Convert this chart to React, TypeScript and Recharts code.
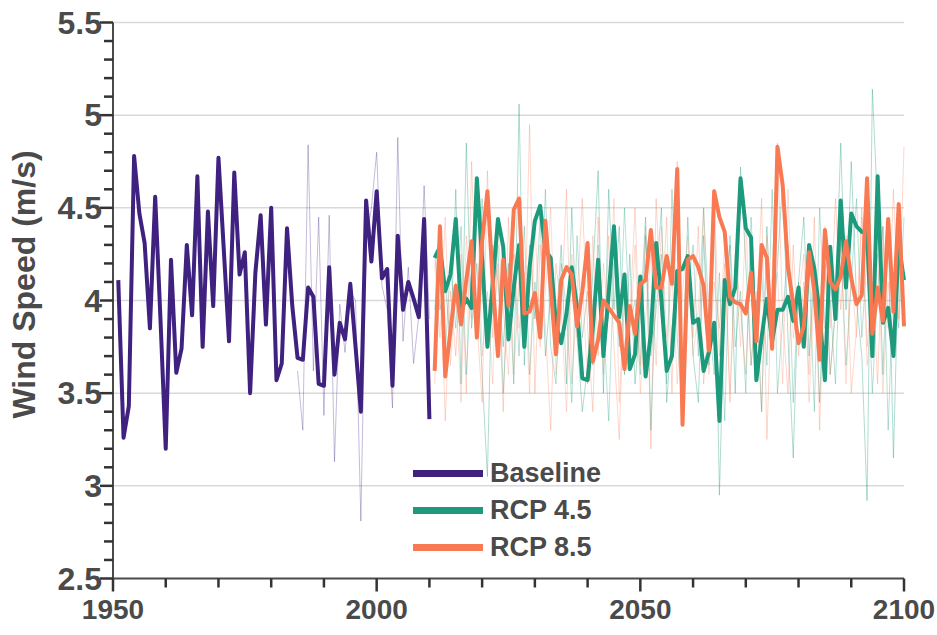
import React from "react";
import {
  LineChart,
  Line,
  XAxis,
  YAxis,
  CartesianGrid,
} from "recharts";

// yearly mean wind speed (m/s)
const BASELINE = [
  4.11, 3.26, 3.43, 4.78, 4.47, 4.31, 3.85, 4.56, 3.9, 3.2,
  4.22, 3.61, 3.74, 4.3, 3.92, 4.67, 3.75, 4.48, 3.97, 4.77,
  4.28, 3.78, 4.69, 4.14, 4.26, 3.5, 4.15, 4.46, 3.87, 4.5,
  3.57, 3.66, 4.39, 3.97, 3.69, 3.68, 4.07, 4.02, 3.55, 3.54,
  4.18, 3.6, 3.88, 3.79, 4.09, 3.75, 3.4, 4.54, 4.21, 4.59,
  4.12, 4.17, 3.54, 4.35, 3.95, 4.1, 4.01, 3.91, 4.44, 3.36,
]; // 1951-2010

const BASELINE_RUN = [
  3.62, 3.3, 4.84, 3.62, 4.45, 3.38, 4.46, 3.13, 3.98, 3.72,
  4.05, 4.0, 2.81, 4.32, 4.5, 4.8, 4.08, 3.95, 3.42, 4.88,
  3.78, 4.18, 3.66, 3.92, 4.62, 3.9,
]; // 1985-2010

const RCP45 = [
  4.23, 4.29, 4.05, 4.14, 4.44, 3.95, 4.01, 3.96, 4.66, 4.22,
  3.75, 4.09, 4.44, 4.29, 3.79, 4.07, 4.3, 3.75, 4.18, 4.43,
  4.51, 4.27, 4.23, 3.87, 3.77, 3.93, 4.18, 3.96, 3.58, 3.57,
  3.86, 4.22, 3.7, 4.04, 4.4, 3.91, 4.14, 3.63, 3.71, 4.13,
  3.59, 3.82, 4.31, 4.0, 3.62, 3.7, 4.16, 4.17, 4.24, 3.88,
  3.9, 3.62, 3.72, 3.88, 3.35, 4.11, 3.98, 4.07, 4.66, 4.39,
  4.34, 3.57, 3.8, 4.01, 3.78, 3.95, 3.95, 4.02, 3.89, 4.07,
  3.75, 4.3, 4.17, 3.93, 3.57, 4.29, 3.9, 4.54, 4.07, 4.47,
  4.4, 4.37, 4.37, 3.7, 4.67, 3.88, 3.96, 3.7, 4.3, 4.11,
]; // 2011-2100

const RCP85 = [
  3.62, 4.4, 3.59, 3.84, 4.08, 3.87, 4.11, 4.32, 3.8, 4.32,
  4.59, 4.11, 3.7, 4.22, 3.97, 4.49, 4.55, 3.93, 3.94, 4.04,
  3.8, 4.43, 4.07, 3.71, 4.11, 4.18, 4.14, 3.86, 4.05, 4.31,
  3.67, 3.79, 4.0, 3.96, 3.92, 3.88, 3.63, 3.97, 3.82, 4.09,
  4.11, 4.38, 4.07, 4.07, 4.24, 4.09, 4.71, 3.33, 4.22, 4.24,
  4.18, 4.08, 3.73, 4.59, 4.45, 4.37, 4.02, 3.99, 3.98, 3.93,
  4.15, 3.78, 4.3, 4.23, 3.74, 4.83, 4.62, 4.18, 3.98, 3.77,
  3.86, 4.26, 4.05, 3.68, 4.38, 4.1, 4.06, 4.13, 4.32, 4.12,
  3.98, 4.03, 4.66, 3.82, 4.07, 3.89, 4.44, 3.94, 4.52, 3.86,
]; // 2011-2100

// individual model runs (thin lines)
const RCP45_RUN_A = [
  4.25, 3.95, 4.1, 3.75, 4.6, 3.55, 4.85, 3.85, 4.2, 3.6,
  3.05, 4.3, 4.1, 3.75, 4.2, 3.55, 5.06, 3.65, 4.3, 3.9,
  4.45, 3.7, 4.05, 3.85, 4.3, 3.55, 4.5, 3.8, 3.4, 3.65,
  4.15, 4.7, 3.5, 4.6, 3.95, 4.4, 3.6, 4.25, 3.55, 3.9,
  4.45, 3.3, 4.1, 4.5, 3.45, 3.85, 4.15, 3.6, 4.45, 3.7,
  3.45, 4.35, 3.65, 4.55, 2.95, 4.05, 4.3, 3.5, 4.72, 4.2,
  3.65, 4.0, 3.4, 4.4, 3.75, 4.2, 4.65, 3.8, 3.15, 4.1,
  4.45, 3.7, 4.15, 3.45, 4.2, 3.6, 3.95, 4.85, 3.95, 4.75,
  4.0, 3.7, 2.92, 5.14, 4.5, 3.6, 4.4, 3.15, 4.25, 4.05,
];

const RCP45_RUN_B = [
  3.95, 4.35, 3.7, 4.2, 3.85, 4.4, 3.6, 4.15, 3.9, 4.55,
  3.75, 3.95, 4.3, 3.5, 4.05, 4.25, 3.7, 4.4, 3.6, 4.1,
  3.85, 4.6, 3.75, 3.55, 4.2, 3.95, 3.45, 4.35, 3.8, 4.05,
  3.65, 4.3, 3.9, 3.35, 4.2, 3.75, 4.5, 3.85, 4.0, 3.6,
  4.35, 3.7, 3.95, 4.25, 3.55, 4.6, 3.8, 3.4, 4.05, 4.3,
  3.7, 4.5, 3.9, 3.6, 4.15, 3.35, 4.35, 3.75, 4.05, 3.5,
  4.45, 3.85, 4.15, 3.65, 4.6, 3.5, 3.9, 4.3, 3.45, 4.1,
  3.75, 4.2, 3.4, 4.5, 3.85, 4.0, 3.55, 4.35, 3.65, 4.1,
  4.55, 3.8, 4.25, 3.5, 4.05, 4.4, 3.3, 4.15, 3.85, 4.45,
];

const RCP85_RUN_A = [
  3.55, 4.3, 3.35, 4.05, 3.7, 4.25, 3.5, 4.75, 3.9, 3.45,
  4.7, 3.8, 4.2, 3.4, 4.45, 3.6, 4.1, 3.75, 4.95, 3.5,
  4.3, 3.85, 3.3, 4.2, 3.95, 4.6, 3.55, 4.0, 4.55, 3.85,
  3.4, 4.45, 3.6, 4.35, 3.75, 3.25, 4.15, 3.9, 4.5, 3.65,
  4.4, 3.2, 4.55, 3.9, 4.45, 3.5, 4.75, 3.4, 4.1, 3.8,
  4.4, 3.55, 3.9, 4.6, 3.7, 4.2, 3.45, 4.25, 3.95, 3.6,
  4.35, 3.85, 4.55, 3.25, 4.15, 4.85, 3.9, 3.5, 4.3, 3.7,
  4.1, 3.6, 4.45, 3.3, 4.2, 3.85, 4.55, 3.95, 4.35, 3.5,
  3.85, 4.5, 3.75, 4.1, 3.55, 4.4, 3.85, 4.6, 3.9, 4.83,
];

const RCP85_RUN_B = [
  4.2, 3.8, 4.45, 3.65, 4.1, 3.45, 4.35, 3.9, 4.6, 3.7,
  4.05, 3.55, 4.4, 3.95, 3.6, 4.3, 3.85, 4.15, 3.5, 4.45,
  3.75, 4.05, 4.5, 3.6, 3.95, 3.4, 4.25, 3.8, 4.1, 3.55,
  4.35, 3.7, 4.2, 3.9, 4.55, 3.45, 4.0, 3.75, 4.3, 3.5,
  3.9, 4.25, 3.65, 4.4, 3.8, 4.15, 3.55, 4.05, 4.35, 3.7,
  3.95, 4.5, 3.6, 4.1, 3.85, 4.3, 3.5, 4.2, 3.75, 4.45,
  3.65, 4.05, 3.4, 4.35, 3.9, 4.15, 3.55, 4.6, 3.8, 4.0,
  4.25, 3.45, 4.1, 3.7, 4.4, 3.6, 3.95, 4.3, 3.55, 4.15,
  3.8, 4.45, 3.65, 3.95, 4.25, 3.5, 4.1, 3.75, 4.35, 4.0,
];

const X_TICKS = [1950, 1960, 1970, 1980, 1990, 2000, 2010, 2020, 2030, 2040, 2050, 2060, 2070, 2080, 2090, 2100];
const X_LABELS = [1950, 2000, 2050, 2100];
const Y_TICKS = [
  2.5, 2.6, 2.7, 2.8, 2.9, 3, 3.1, 3.2, 3.3, 3.4, 3.5, 3.6, 3.7, 3.8, 3.9, 4,
  4.1, 4.2, 4.3, 4.4, 4.5, 4.6, 4.7, 4.8, 4.9, 5, 5.1, 5.2, 5.3, 5.4, 5.5,
];
const Y_LABELS = [2.5, 3, 3.5, 4, 4.5, 5, 5.5];
const GRID = [3, 3.5, 4, 4.5, 5, 5.5];

const PURPLE = "#3f2180";
const TEAL = "#1d9a7c";
const SALMON = "#f97a52";
const AXIS = "#4a4a4a";
const TICK = "#333";
const FONT = "'Liberation Sans', Arial, sans-serif";

const LEGEND = [
  { name: "Baseline", color: PURPLE },
  { name: "RCP 4.5", color: TEAL },
  { name: "RCP 8.5", color: SALMON },
];

const data: any[] = [];
for (let yr = 1951; yr <= 2100; yr++) {
  const b = yr - 1951;
  const br = yr - 1985;
  const f = yr - 2011;
  data.push({
    year: yr,
    baseline: BASELINE[b],
    baselineRun: br >= 0 ? BASELINE_RUN[br] : undefined,
    rcp45: f >= 0 ? RCP45[f] : undefined,
    rcp85: f >= 0 ? RCP85[f] : undefined,
    rcp45RunA: f >= 0 ? RCP45_RUN_A[f] : undefined,
    rcp45RunB: f >= 0 ? RCP45_RUN_B[f] : undefined,
    rcp85RunA: f >= 0 ? RCP85_RUN_A[f] : undefined,
    rcp85RunB: f >= 0 ? RCP85_RUN_B[f] : undefined,
  });
}

const isLabel = (list: number[], v: number) =>
  list.some((l) => Math.abs(l - v) < 1e-6);

// ticks drawn here: tickSize/tickMargin are 0 so x,y sit on the axis line
const YTick = (props: any) => {
  const { x, y, payload } = props;
  const major = isLabel(Y_LABELS, payload.value);
  return (
    <g>
      <path d={`M${x},${y}H${x - (major ? 13 : 9)}`} stroke={TICK} strokeWidth={2.5} fill="none" />
      {major && (
        <text
          x={x - 11}
          y={y}
          textAnchor="end"
          dominantBaseline="central"
          fontFamily={FONT}
          fontWeight="bold"
          fontSize={32}
          fill={AXIS}
        >
          {payload.value}
        </text>
      )}
    </g>
  );
};

const XTick = (props: any) => {
  const { x, y, payload } = props;
  const major = isLabel(X_LABELS, payload.value);
  return (
    <g>
      <path d={`M${x},${y}V${y + (major ? 13 : 9)}`} stroke={TICK} strokeWidth={2.5} fill="none" />
      {major && (
        <text
          x={x}
          y={y + 40}
          textAnchor="middle"
          fontFamily={FONT}
          fontWeight="bold"
          fontSize={28}
          fill={AXIS}
        >
          {payload.value}
        </text>
      )}
    </g>
  );
};

const YTitle = (props: any) => {
  const { viewBox } = props;
  const cx = 24;
  const cy = viewBox.y + viewBox.height / 2 - 16;
  return (
    <text
      x={cx}
      y={cy}
      transform={`rotate(-90 ${cx} ${cy})`}
      textAnchor="middle"
      dominantBaseline="central"
      fontFamily={FONT}
      fontWeight="bold"
      fontSize={32}
      fill={AXIS}
    >
      Wind Speed (m/s)
    </text>
  );
};

const thin = { strokeWidth: 1, dot: false as const, isAnimationActive: false };
const thick = { strokeWidth: 4, dot: false as const, isAnimationActive: false, strokeLinejoin: "round" as const };

export default function App() {
  return (
    <div style={{ position: "absolute", left: 0, top: 0, width: 937, height: 635, background: "#fff" }}>
      <LineChart
        width={937}
        height={635}
        data={data}
        margin={{ top: 22.5, right: 33, left: 0, bottom: 0 }}
      >
        <CartesianGrid
          horizontal
          vertical={false}
          horizontalValues={GRID}
          stroke="#d9d9d9"
          strokeWidth={1.5}
        />
        <XAxis
          dataKey="year"
          type="number"
          domain={[1950, 2100]}
          ticks={X_TICKS}
          interval={0}
          height={56.5}
          tickSize={0}
          tickMargin={0}
          tickLine={false}
          axisLine={{ stroke: AXIS, strokeWidth: 2 }}
          tick={<XTick />}
        />
        <YAxis
          type="number"
          domain={[2.5, 5.5]}
          ticks={Y_TICKS}
          interval={0}
          width={113}
          tickSize={0}
          tickMargin={0}
          tickLine={false}
          axisLine={{ stroke: AXIS, strokeWidth: 2 }}
          tick={<YTick />}
          label={<YTitle />}
        />
        <Line dataKey="baselineRun" stroke={PURPLE} strokeOpacity={0.3} {...thin} />
        <Line dataKey="rcp45RunA" stroke={TEAL} strokeOpacity={0.35} {...thin} />
        <Line dataKey="rcp85RunA" stroke={SALMON} strokeOpacity={0.3} {...thin} />
        <Line dataKey="rcp45RunB" stroke={TEAL} strokeOpacity={0.3} {...thin} />
        <Line dataKey="rcp85RunB" stroke={SALMON} strokeOpacity={0.25} {...thin} />
        <Line dataKey="baseline" stroke={PURPLE} {...thick} />
        <Line dataKey="rcp45" stroke={TEAL} {...thick} />
        <Line dataKey="rcp85" stroke={SALMON} {...thick} />
      </LineChart>

      {/* legend */}
      <div style={{ position: "absolute", left: 413, top: 455 }}>
        {LEGEND.map((item) => (
          <div key={item.name} style={{ display: "flex", alignItems: "center", height: 37 }}>
            <div style={{ width: 70, height: 7, background: item.color }} />
            <span
              style={{
                marginLeft: 7,
                fontFamily: FONT,
                fontWeight: "bold",
                fontSize: 27,
                color: AXIS,
                lineHeight: "37px",
              }}
            >
              {item.name}
            </span>
          </div>
        ))}
      </div>
    </div>
  );
}
